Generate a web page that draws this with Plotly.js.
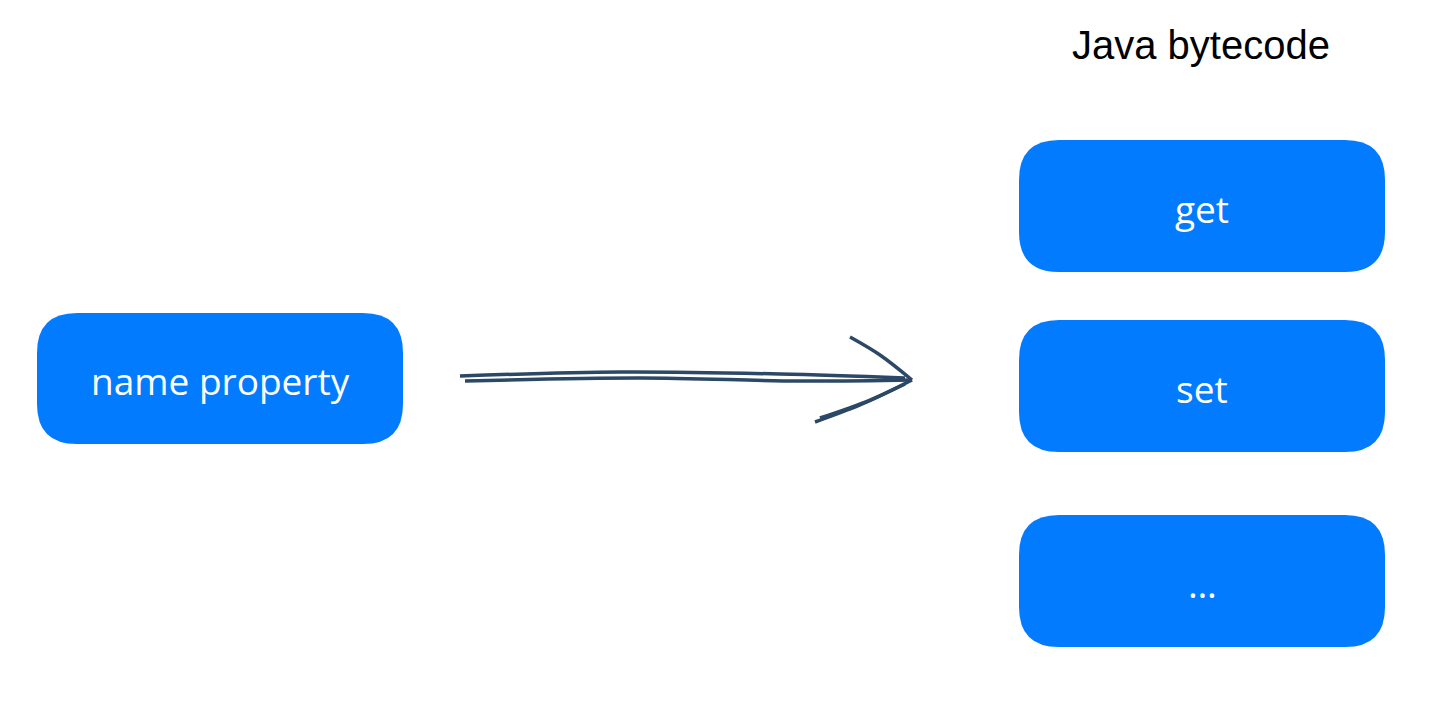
<!DOCTYPE html>
<html>
<head>
<meta charset="utf-8">
<script src="https://cdn.plot.ly/plotly-3.0.1.min.js"></script>
<style>html,body{margin:0;padding:0;background:#fff}#chart{width:1432px;height:707px}</style>
</head>
<body>
<div id="chart"></div>
<script>
// diagram nodes (pixel space, y down)
const boxLabels = ['name property', 'get', 'set', '…'];
const boxLeft = [37, 1019, 1019, 1019];
const boxRight = [403, 1385, 1385, 1385];
const boxTop = [313, 140, 320, 515];
const boxBottom = [444, 272, 452, 647];

// hand-drawn arrow strokes
const strokeX = [[460, 620, 780, 905], [465, 640, 800, 912], [850, 880, 912], [815, 860, 905], [820, 870, 912]];
const strokeY = [[376, 372, 374, 378], [381, 378, 381, 380], [337, 355, 380], [422, 405, 384], [418, 400, 380]];

const boxColor = '#027BFF';
const inkColor = '#2B4866';

function roundRect(x0, y0, x1, y1, r) {
  return `M${x0 + r},${y0} L${x1 - r},${y0} Q${x1},${y0} ${x1},${y0 + r} ` +
    `L${x1},${y1 - r} Q${x1},${y1} ${x1 - r},${y1} L${x0 + r},${y1} ` +
    `Q${x0},${y1} ${x0},${y1 - r} L${x0},${y0 + r} Q${x0},${y0} ${x0 + r},${y0} Z`;
}

const shapes = boxLabels.map((_, i) => ({
  type: 'path', xref: 'x', yref: 'y',
  path: roundRect(boxLeft[i], boxTop[i], boxRight[i], boxBottom[i], 40),
  fillcolor: boxColor, line: {width: 0}, layer: 'below'
}));

const annotations = boxLabels.map((t, i) => ({
  x: (boxLeft[i] + boxRight[i]) / 2, y: (boxTop[i] + boxBottom[i]) / 2 + 2,
  xref: 'x', yref: 'y', text: t, showarrow: false,
  font: {family: 'Open Sans', size: 37, color: '#fff'}
}));
annotations.push({
  x: 1201, y: 45, xref: 'x', yref: 'y', text: 'Java bytecode', showarrow: false,
  font: {family: 'Liberation Sans', size: 40, color: '#000'}
});

const data = strokeX.map((xs, i) => ({
  x: xs, y: strokeY[i], mode: 'lines', type: 'scatter', hoverinfo: 'skip',
  line: {color: inkColor, width: 3.5, shape: 'spline'}
}));

const layout = {
  width: 1432, height: 707,
  margin: {l: 0, r: 0, t: 0, b: 0},
  paper_bgcolor: '#fff', plot_bgcolor: '#fff',
  showlegend: false,
  xaxis: {range: [0, 1432], visible: false, fixedrange: true},
  yaxis: {range: [707, 0], visible: false, fixedrange: true},
  shapes: shapes,
  annotations: annotations
};

Plotly.newPlot('chart', data, layout, {displayModeBar: false, staticPlot: true});
</script>
</body>
</html>
